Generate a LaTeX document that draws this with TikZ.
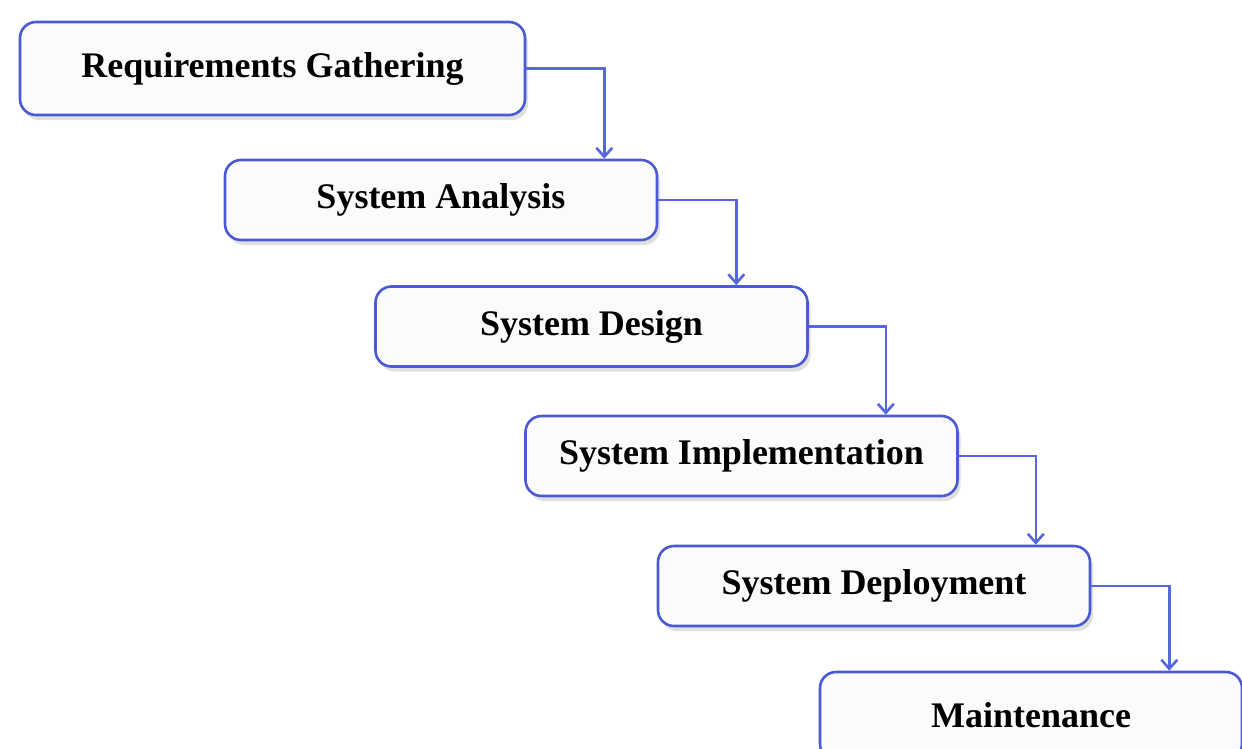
\documentclass[tikz,border=0pt]{standalone}
\usepackage{fontspec}
\setmainfont{Liberation Serif}
\usetikzlibrary{arrows.meta,positioning,shadows}
\definecolor{boxblue}{HTML}{4B5AD3}
\definecolor{arrowblue}{HTML}{5567DE}
\definecolor{boxfill}{HTML}{FBFBFD}

\begin{document}
\begin{tikzpicture}[
  x=1pt, y=-1pt,
  phase/.style={rectangle,rounded corners=16pt,draw=boxblue,line width=2.6pt,fill=boxfill,
    minimum width=432pt,minimum height=80pt,inner sep=0pt,
    font=\fontsize{36}{40}\selectfont\bfseries,
    drop shadow={shadow xshift=3pt,shadow yshift=-5pt,opacity=0.12,fill=black}},
  arrow/.style={-{Straight Barb[length=9pt,width=16pt]},line width=2.6pt,draw=arrowblue}
]
\useasboundingbox (0,0) rectangle (1242,748);
\node[phase, minimum width=505pt, minimum height=93pt] (req) at (272.5,68.5) {\raisebox{-3pt}{Requirements Gathering}};
\node[phase] (ana) at (441,200) {System Analysis};
\node[phase] (des) at (591.5,326.5) {System Design};
\node[phase] (imp) at (741.5,456) {System Implementation};
\node[phase] (dep) at (874,586) {System Deployment};
\node[phase, minimum width=422pt, minimum height=88pt] (mnt) at (1031,716) {\raisebox{2pt}{Maintenance}};

\draw[arrow] (req.east) -| ([xshift=78pt]req.east |- ana.north);
\draw[arrow] (ana.east) -| ([xshift=78pt]ana.east |- des.north);
\draw[arrow] (des.east) -| ([xshift=77pt]des.east |- imp.north);
\draw[arrow] (imp.east) -| ([xshift=77pt]imp.east |- dep.north);
\draw[arrow] (dep.east) -| ([xshift=78pt]dep.east |- mnt.north);
\end{tikzpicture}
\end{document}
